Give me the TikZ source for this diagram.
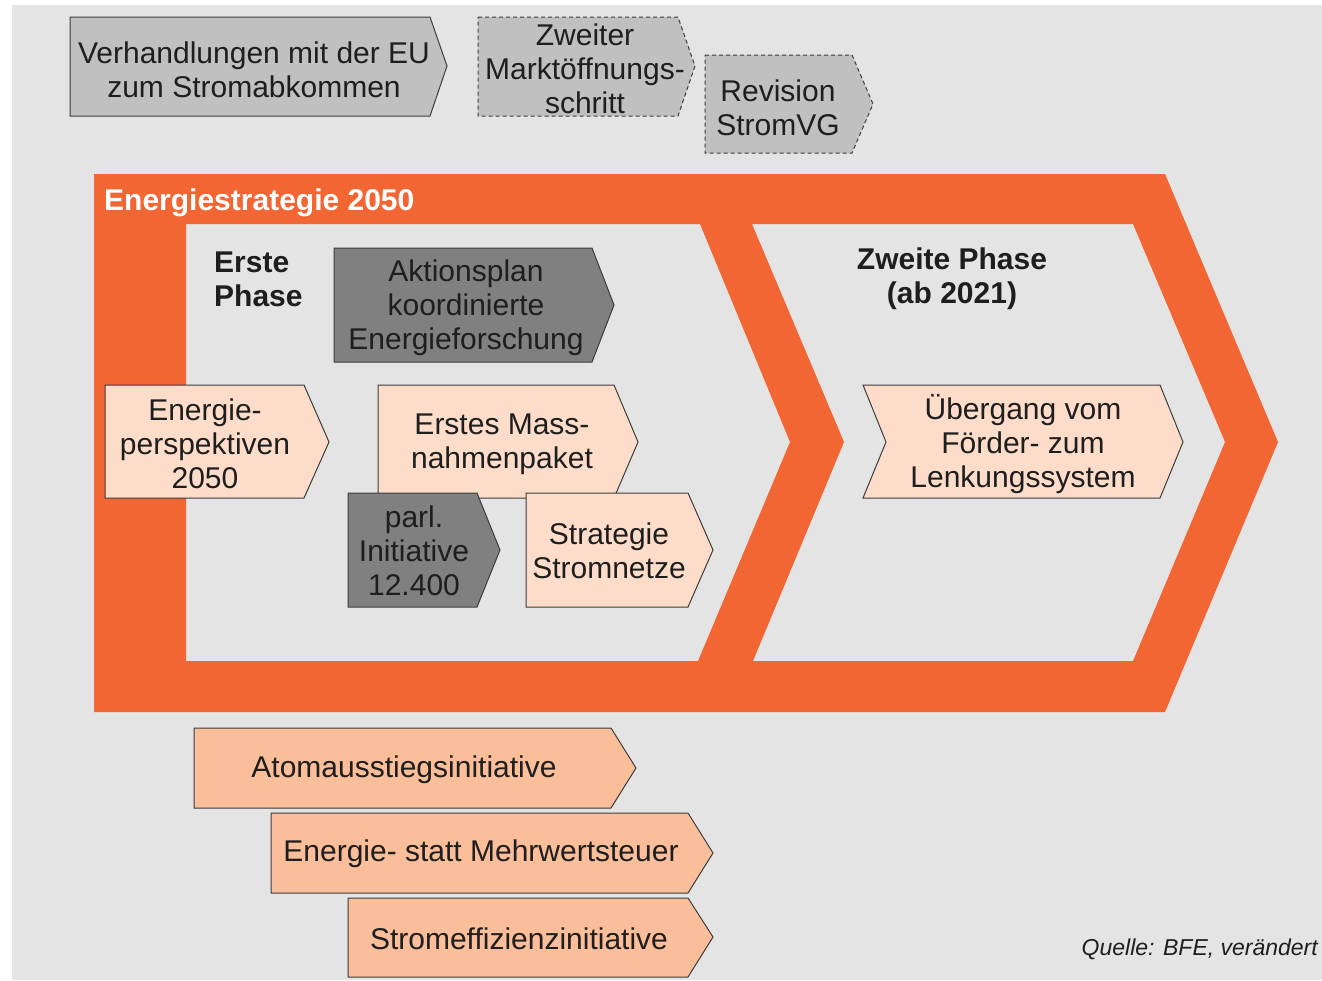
\documentclass[tikz,border=0pt]{standalone}
\usepackage{fontspec}
\setmainfont{Liberation Sans}

\definecolor{bg}{HTML}{E4E4E4}
\definecolor{esorange}{HTML}{F26633}
\definecolor{lightgrey}{HTML}{C0C0C0}
\definecolor{darkgrey}{HTML}{808080}
\definecolor{paleorange}{HTML}{FDDDCA}
\definecolor{midorange}{HTML}{FBBE9A}
\definecolor{edge}{HTML}{3C3C3C}
\definecolor{ink}{HTML}{1E1E1E}

\tikzset{
	arrowbox/.style={draw=edge, line width=1pt},
	planned/.style={arrowbox, dash pattern=on 4pt off 3pt},
	boxtext/.style={text=ink, align=center, inner sep=0pt, font=\fontsize{30}{34}\selectfont},
	phasetext/.style={boxtext, font=\fontsize{30}{34}\selectfont\bfseries}
}

\begin{document}
\begin{tikzpicture}[x=1pt, y=-1pt]
		%draw background
		\useasboundingbox (0,0) rectangle (1322,980);
		\fill[white] (0,0) rectangle (1322,980);
		\fill[bg] (12,5) rectangle (1322,980);
		%draw top row
		\draw[arrowbox, fill=lightgrey] (70,17) -- (430,17) -- (447,66) -- (430,116) -- (70,116) -- cycle;
		\node[boxtext] (eu) at (254,70) {Verhandlungen mit der EU\\zum Stromabkommen};
		\draw[planned, fill=lightgrey] (478,17) -- (678,17) -- (695,66) -- (678,116) -- (478,116) -- cycle;
		\node[boxtext] (markt) at (585,69) {Zweiter\\Marktöffnungs-\\schritt};
		\draw[planned, fill=lightgrey] (705,55) -- (852,55) -- (873,104) -- (852,153) -- (705,153) -- cycle;
		\node[boxtext] (revision) at (778,108) {Revision\\StromVG};
		%draw strategy frame
		\fill[esorange, even odd rule] (94,174) -- (1165,174) -- (1278,442) -- (1165,712) -- (94,712) -- cycle
			(186,224) -- (700,224) -- (790,442) -- (698,661) -- (186,661) -- cycle
			(752,224) -- (1133,224) -- (1225,442) -- (1133,661) -- (753,661) -- (844,442) -- cycle;
		\node[phasetext, text=white, anchor=west] (strategie) at (104,203) {Energiestrategie 2050};
		%draw first phase
		\node[phasetext, align=left, anchor=west] (erste) at (214,279) {Erste\\Phase};
		\draw[arrowbox, fill=darkgrey] (334,248) -- (592,248) -- (614,305) -- (592,362) -- (334,362) -- cycle;
		\node[boxtext] (aktionsplan) at (466,308) {Aktionsplan\\koordinierte\\Energieforschung};
		\draw[arrowbox, fill=paleorange] (105,385) -- (304,385) -- (329,442) -- (304,498) -- (105,498) -- cycle;
		\node[boxtext] (perspektiven) at (205,444) {Energie-\\perspektiven\\2050};
		\draw[arrowbox, fill=paleorange] (378,385) -- (614,385) -- (638,442) -- (614,498) -- (378,498) -- cycle;
		\node[boxtext] (massnahmen) at (502,444) {Erstes Mass-\\nahmenpaket};
		\draw[arrowbox, fill=darkgrey] (348,493) -- (477,493) -- (500,550) -- (477,607) -- (348,607) -- cycle;
		\node[boxtext] (parl) at (414,551) {parl.\\Initiative\\12.400};
		\draw[arrowbox, fill=paleorange] (526,493) -- (688,493) -- (713,550) -- (688,607) -- (526,607) -- cycle;
		\node[boxtext] (netze) at (609,551) {Strategie\\Stromnetze};
		%draw second phase
		\node[phasetext] (zweite) at (952,279) {Zweite Phase\\(ab 2021)};
		\draw[arrowbox, fill=paleorange] (863,385) -- (1160,385) -- (1183,442) -- (1160,498) -- (863,498) -- (886,442) -- cycle;
		\node[boxtext] (lenkung) at (1023,444) {Übergang vom\\Förder- zum\\Lenkungssystem};
		%draw initiatives
		\draw[arrowbox, fill=midorange] (194,728) -- (611,728) -- (636,768) -- (611,808) -- (194,808) -- cycle;
		\node[boxtext] (atom) at (404,770) {Atomausstiegsinitiative};
		\draw[arrowbox, fill=midorange] (271,813) -- (688,813) -- (713,853) -- (688,893) -- (271,893) -- cycle;
		\node[boxtext] (mwst) at (481,854) {Energie- statt Mehrwertsteuer};
		\draw[arrowbox, fill=midorange] (348,898) -- (688,898) -- (713,937) -- (688,977) -- (348,977) -- cycle;
		\node[boxtext] (effizienz) at (519,939) {Stromeffizienzinitiative};
		%draw source
		\node[text=ink, anchor=east, inner sep=0pt, font=\fontsize{23}{27}\selectfont\itshape] (quelle) at (1318,949) {Quelle: BFE, verändert};
\end{tikzpicture}
\end{document}
